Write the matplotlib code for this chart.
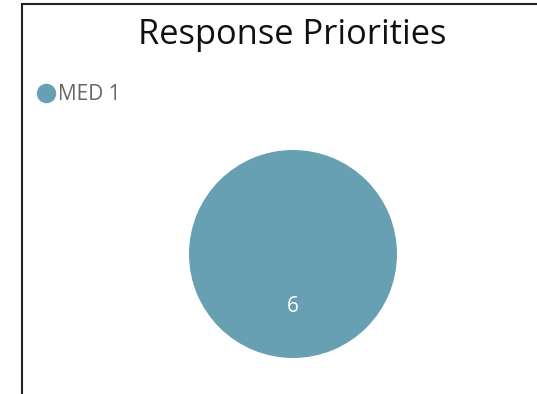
import matplotlib
matplotlib.use("Agg")
import matplotlib.pyplot as plt
from matplotlib.lines import Line2D
from matplotlib.patches import Rectangle

categories = ["MED 1"]
values = [6]
colors = ["#67A0B2"]
title = "Response Priorities"

plt.rcParams['font.family'] = ['Open Sans', 'DejaVu Sans']

W, H = 537, 394
fig = plt.figure(figsize=(W / 100, H / 100), dpi=100)
fig.patch.set_facecolor("white")

# border
fig.patches.append(Rectangle((22 / W, -0.1), 1.2, (H - 4) / H + 0.1, transform=fig.transFigure,
                             fill=False, edgecolor="#222222", linewidth=1.5))

cx, cy, r = 293, H - 254, 104
ax = fig.add_axes([(cx - r) / W, (cy - r) / H, 2 * r / W, 2 * r / H])
wedges, texts, autotexts = ax.pie(values, colors=colors, startangle=90,
                                  autopct=lambda p: f"{round(p * sum(values) / 100)}",
                                  pctdistance=0.5, wedgeprops=dict(linewidth=0),
                                  textprops=dict(color="white", fontsize=15))
ax.set_xlim(-1, 1)
ax.set_ylim(-1, 1)
ax.set_aspect("equal")

fig.text(292 / W, 1 - 35 / H, title, ha="center", va="center", fontsize=24.8, color="#111111")

handles = [Line2D([], [], marker="o", linestyle="", markersize=14, markerfacecolor=c,
                  markeredgewidth=0) for c in colors]
fig.legend(handles, categories, loc="center left", bbox_to_anchor=(33 / W, 1 - 95 / H),
           frameon=False, handletextpad=0.0, handlelength=1.2, fontsize=15,
           labelcolor="#666666", borderaxespad=0, borderpad=0)

fig.savefig("out.png", dpi=100)
